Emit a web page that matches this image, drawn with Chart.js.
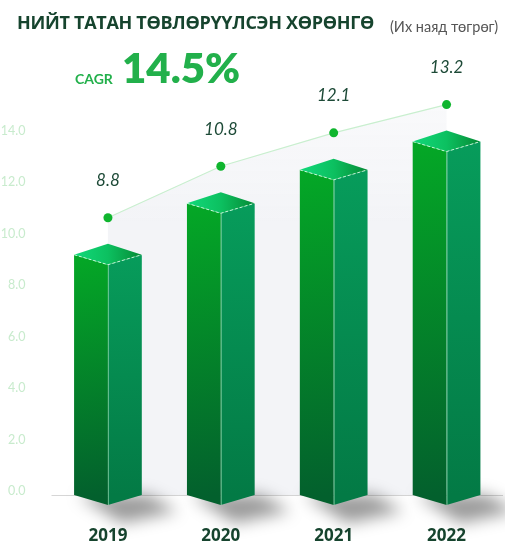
<!DOCTYPE html>
<html>
<head>
<meta charset="utf-8">
<script src="https://cdn.jsdelivr.net/npm/chart.js@4.4.1/dist/chart.umd.min.js"></script>
<style>
  html, body { margin: 0; padding: 0; background: #fff; }
  #wrap { position: relative; width: 505px; height: 541px; overflow: hidden; }
  #chart { position: absolute; left: 0; top: 0; }
  .title { position: absolute; left: 17px; top: 10px; font: 700 18px "Open Sans", sans-serif; letter-spacing: -0.3px; color: #16442e; white-space: nowrap; }
  .unit { position: absolute; left: 390px; top: 18px; font: 400 14.5px "Lato", sans-serif; color: #555; white-space: nowrap; }
  .cagr { position: absolute; left: 75px; top: 70px; font: 700 14px "Lato", sans-serif; color: #22b04b; }
  .big { position: absolute; left: 122px; top: 42px; font: 800 42px "Lato", sans-serif; color: #22b04b; }
</style>
</head>
<body>
<div id="wrap">
  <canvas id="chart" width="505" height="541"></canvas>
  <div class="title">НИЙТ ТАТАН ТӨВЛӨРҮҮЛСЭН ХӨРӨНГӨ</div>
  <div class="unit">(Их наяд төгрөг)</div>
  <div class="cagr">CAGR</div>
  <div class="big">14.5%</div>
</div>
<script>
// Données
const annees = ['2019', '2020', '2021', '2022'];
const valeurs = [8.8, 10.8, 12.1, 13.2];
const ticksY = [0, 2, 4, 6, 8, 10, 12, 14];

// Décalages visuels (pixels)
const DOT_OFFSET = 47;
const LABEL_OFFSET = 37;
const TOP_DEPTH = 10;

// Plugin : mur gris, ligne, points, barres 3D et étiquettes
const barres3d = {
  id: 'barres3d',
  beforeDatasetsDraw(chart) {
    const ctx = chart.ctx;
    const meta = chart.getDatasetMeta(0);
    const y = chart.scales.y;
    const base = y.getPixelForValue(0) + 4;
    const pts = meta.data.map(b => ({ x: b.x, y: b.y - DOT_OFFSET }));

    ctx.save();
    // ligne de base
    ctx.strokeStyle = '#d6d6d6';
    ctx.lineWidth = 1;
    ctx.beginPath();
    ctx.moveTo(chart.chartArea.left, base + 0.5);
    ctx.lineTo(chart.chartArea.right, base + 0.5);
    ctx.stroke();

    // mur gris sous la ligne
    const g = ctx.createLinearGradient(0, pts[pts.length - 1].y, 0, base);
    g.addColorStop(0, 'rgba(243,244,247,0.5)');
    g.addColorStop(0.3, '#f3f4f7');
    g.addColorStop(1, '#f3f4f7');
    ctx.fillStyle = g;
    ctx.beginPath();
    ctx.moveTo(pts[0].x, base);
    pts.forEach(p => ctx.lineTo(p.x, p.y));
    ctx.lineTo(pts[pts.length - 1].x, base);
    ctx.closePath();
    ctx.fill();

    // ombres des barres
    meta.data.forEach(b => {
      const hw = b.width / 2;
      ctx.save();
      ctx.filter = 'blur(8px)';
      ctx.fillStyle = 'rgba(0,0,0,0.4)';
      ctx.beginPath();
      ctx.moveTo(b.x - hw + 4, base);
      ctx.lineTo(b.x + hw + 6, base);
      ctx.lineTo(b.x + hw + 36, base + 16);
      ctx.lineTo(b.x + 14, base + 28);
      ctx.closePath();
      ctx.fill();
      ctx.restore();
    });

    // ligne des points
    ctx.strokeStyle = '#c9efcf';
    ctx.lineWidth = 1.2;
    ctx.beginPath();
    pts.forEach((p, i) => i ? ctx.lineTo(p.x, p.y) : ctx.moveTo(p.x, p.y));
    ctx.stroke();
    ctx.fillStyle = '#0fb52e';
    pts.forEach(p => {
      ctx.beginPath();
      ctx.arc(p.x, p.y, 4.5, 0, Math.PI * 2);
      ctx.fill();
    });
    ctx.restore();
  },
  afterDatasetsDraw(chart) {
    const ctx = chart.ctx;
    const meta = chart.getDatasetMeta(0);
    const y = chart.scales.y;
    const base = y.getPixelForValue(0) + 4;

    meta.data.forEach((b, i) => {
      const hw = b.width / 2;
      const xl = b.x - hw, xr = b.x + hw, xc = b.x;
      const yf = b.y;               // sommet avant
      const yc = yf - TOP_DEPTH;    // coins gauche/droite
      const yb = yf - 2 * TOP_DEPTH - 1; // sommet arrière
      ctx.save();

      // face gauche
      let g = ctx.createLinearGradient(xl, yc, xc, base);
      g.addColorStop(0, '#04a826');
      g.addColorStop(1, '#03602d');
      ctx.fillStyle = g;
      ctx.beginPath();
      ctx.moveTo(xl, yc);
      ctx.lineTo(xc, yf);
      ctx.lineTo(xc, base + TOP_DEPTH);
      ctx.lineTo(xl, base);
      ctx.closePath();
      ctx.fill();

      // face droite
      g = ctx.createLinearGradient(0, yc, 0, base);
      g.addColorStop(0, '#079c5b');
      g.addColorStop(1, '#037a45');
      ctx.fillStyle = g;
      ctx.beginPath();
      ctx.moveTo(xc, yf);
      ctx.lineTo(xr, yc);
      ctx.lineTo(xr, base);
      ctx.lineTo(xc, base + TOP_DEPTH);
      ctx.closePath();
      ctx.fill();

      // arête centrale
      ctx.strokeStyle = 'rgba(170,230,190,0.6)';
      ctx.lineWidth = 1;
      ctx.beginPath();
      ctx.moveTo(xc + 0.5, yf);
      ctx.lineTo(xc + 0.5, base + TOP_DEPTH);
      ctx.stroke();

      // dessus
      g = ctx.createLinearGradient(xl, yc, xr, yc);
      g.addColorStop(0, '#12d97a');
      g.addColorStop(0.5, '#0cc060');
      g.addColorStop(1, '#068a35');
      ctx.fillStyle = g;
      ctx.beginPath();
      ctx.moveTo(xl, yc);
      ctx.lineTo(xc, yb);
      ctx.lineTo(xr, yc);
      ctx.lineTo(xc, yf);
      ctx.closePath();
      ctx.fill();

      // arêtes pointillées
      ctx.setLineDash([3, 2]);
      ctx.strokeStyle = 'rgba(220,255,230,0.85)';
      ctx.beginPath();
      ctx.moveTo(xl, yc);
      ctx.lineTo(xc, yf);
      ctx.lineTo(xr, yc);
      ctx.stroke();
      ctx.setLineDash([]);

      // étiquette
      ctx.fillStyle = '#1d4a37';
      ctx.font = 'italic 400 17px "Lato", sans-serif';
      ctx.textAlign = 'center';
      ctx.textBaseline = 'middle';
      ctx.fillText(valeurs[i].toFixed(1), xc, yf - DOT_OFFSET - LABEL_OFFSET);
      ctx.restore();
    });
  }
};

const ctx = document.getElementById('chart').getContext('2d');
window.graphique = new Chart(ctx, {
  type: 'bar',
  data: {
    labels: annees,
    datasets: [{
      data: valeurs,
      backgroundColor: 'rgba(0,0,0,0)',
      borderWidth: 0,
      categoryPercentage: 1,
      barPercentage: 0.6
    }]
  },
  options: {
    responsive: false,
    animation: false,
    events: [],
    layout: { padding: { top: 131, right: 2, left: 0, bottom: 0 } },
    plugins: { legend: { display: false }, tooltip: { enabled: false } },
    scales: {
      y: {
        min: 0,
        max: 14,
        afterBuildTicks: s => { s.ticks = ticksY.map(v => ({ value: v })); },
        afterFit: s => { s.width = 51.5; },
        grid: { display: false },
        border: { display: false },
        ticks: {
          padding: 18,
          color: '#c8ebcd',
          font: { family: 'Lato', size: 12.5 },
          callback: v => Number(v).toFixed(1)
        }
      },
      x: {
        afterFit: s => { s.height = 50; },
        grid: { display: false },
        border: { display: false },
        ticks: {
          padding: 27,
          color: '#16442e',
          font: { family: 'Open Sans', size: 17, weight: '700' }
        }
      }
    }
  },
  plugins: [barres3d]
});
</script>
</body>
</html>
